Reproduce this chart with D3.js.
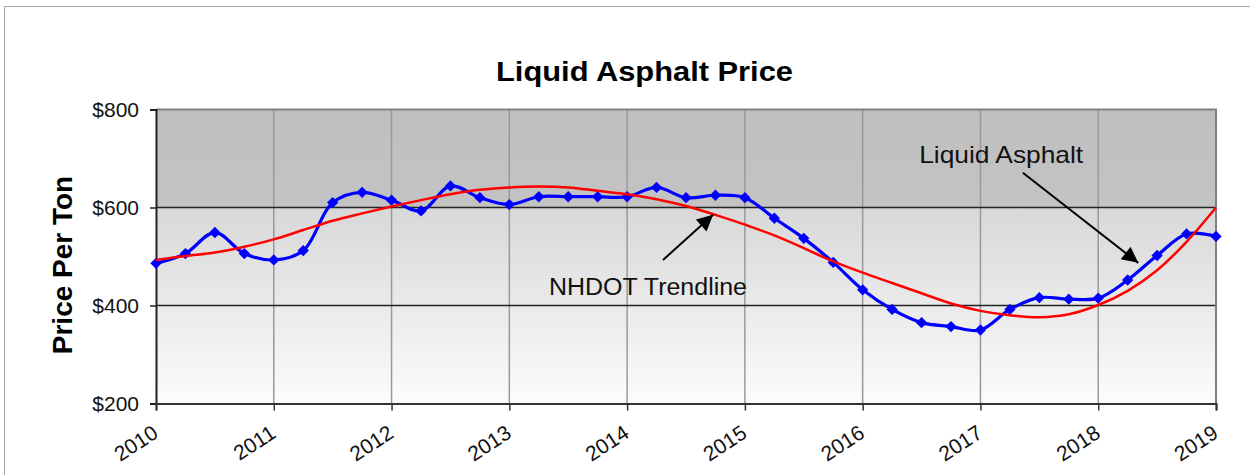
<!DOCTYPE html>
<html>
<head>
<meta charset="utf-8">
<script src="https://cdn.jsdelivr.net/npm/d3@7"></script>
<style>
  html, body { margin: 0; padding: 0; background: #fff; }
  svg { display: block; }
  text { font-family: "Liberation Sans", Arial, sans-serif; }
</style>
</head>
<body>
<script>
// ---------- DATA ----------
const startYear = 2010;
const yearLabels = ["2010","2011","2012","2013","2014","2015","2016","2017","2018","2019"];
const priceTicks = [200, 400, 600, 800];
// quarterly liquid asphalt price ($/ton), 2010 Q1 .. 2019 Q1
const asphaltPrice = [486, 506, 549, 506, 493, 512, 610, 631, 615, 593, 644, 620, 606,
  622, 622, 622, 622, 641, 620, 625, 620, 578, 537, 488, 432, 392, 365, 357, 350,
  392, 416, 413, 415, 452, 502, 546, 541];
// NHDOT trendline read at the same quarters
const trendPrice = [493, 501, 508, 520, 535, 554, 573, 588, 602, 615, 627, 636, 641,
  643, 641, 634, 627, 617, 603, 585, 565, 543, 517, 490, 467, 446, 425, 404, 389,
  380, 376, 382, 401, 430, 472, 530, 600];
const titleText = "Liquid Asphalt Price";
const yAxisTitle = "Price Per Ton";
// annotation callouts in data coordinates (year, price)
const annotations = [
  { label: "NHDOT Trendline", textAt: [2013.337, 421], from: [2014.305, 493], to: [2014.73, 585] },
  { label: "Liquid Asphalt", textAt: [2016.48, 690], from: [2017.36, 671], to: [2018.34, 487] }
];

// ---------- LAYOUT ----------
const W = 1250, H = 475;
const plot = { left: 156, right: 1216, top: 109.5, bottom: 403.5 };

const svg = d3.select("body").append("svg").attr("width", W).attr("height", H);

const x = d3.scaleLinear().domain([2010, 2019]).range([plot.left, plot.right]);
const y = d3.scaleLinear().domain([200, 800]).range([plot.bottom, plot.top]);

const defs = svg.append("defs");
const grad = defs.append("linearGradient").attr("id", "bg")
  .attr("x1", 0).attr("y1", 0).attr("x2", 0).attr("y2", 1);
[[0, "#bfbfbf"], [0.33, "#c3c3c3"], [0.335, "#d8d8d8"], [1, "#fcfcfc"]]
  .forEach(([o, c]) => grad.append("stop").attr("offset", o).attr("stop-color", c));

defs.append("marker").attr("id", "arrow")
  .attr("viewBox", "0 0 10 10").attr("refX", 10).attr("refY", 5)
  .attr("markerWidth", 9).attr("markerHeight", 8).attr("markerUnits", "strokeWidth")
  .attr("orient", "auto")
  .append("path").attr("d", "M0,0 L10,5 L0,10 Z").attr("fill", "#000");

// outer frame
svg.append("rect").attr("x", 4.5).attr("y", 6.5).attr("width", 1270).attr("height", 490)
  .attr("fill", "none").attr("stroke", "#a6a6a6").attr("stroke-width", 1);

// plot background
svg.append("rect").attr("x", plot.left).attr("y", plot.top)
  .attr("width", plot.right - plot.left).attr("height", plot.bottom - plot.top)
  .attr("fill", "url(#bg)");

// vertical gridlines
svg.append("g").selectAll("line").data(yearLabels.slice(1, -1)).join("line")
  .attr("x1", d => x(+d)).attr("x2", d => x(+d))
  .attr("y1", plot.top).attr("y2", plot.bottom)
  .attr("stroke", "#999").attr("stroke-width", 1.5);

// horizontal gridlines
svg.append("g").selectAll("line").data(priceTicks.slice(1, -1)).join("line")
  .attr("x1", plot.left).attr("x2", plot.right)
  .attr("y1", d => y(d)).attr("y2", d => y(d))
  .attr("stroke", "#222").attr("stroke-width", 1.5);

// plot border top/right
svg.append("path")
  .attr("d", `M${plot.left},${plot.top}H${plot.right}V${plot.bottom}`)
  .attr("fill", "none").attr("stroke", "#808080").attr("stroke-width", 2);

// axes
const yAxis = d3.axisLeft(y).tickValues(priceTicks).tickSize(6).tickPadding(11)
  .tickFormat(d => "$" + d);
const gy = svg.append("g").attr("transform", `translate(${plot.left},0)`).call(yAxis);
gy.select(".domain").attr("stroke", "#222").attr("stroke-width", 2);
gy.selectAll(".tick line").attr("stroke", "#222").attr("stroke-width", 1.5);
gy.selectAll(".tick text").attr("font-size", 21).attr("fill", "#111")
  .style("font-family", "'Liberation Sans', Arial, sans-serif");

const xAxis = d3.axisBottom(x).tickValues(yearLabels.map(Number)).tickSize(7)
  .tickFormat((d, i) => yearLabels[i]);
const gx = svg.append("g").attr("transform", `translate(0,${plot.bottom})`).call(xAxis);
gx.select(".domain").attr("stroke", "#333").attr("stroke-width", 2);
gx.selectAll(".tick line").attr("stroke", "#333").attr("stroke-width", 1.5);
gx.selectAll(".tick text")
  .attr("font-size", 21).attr("fill", "#111")
  .style("font-family", "'Liberation Sans', Arial, sans-serif")
  .attr("text-anchor", "end").attr("y", 0).attr("dy", 0)
  .attr("transform", "translate(3,33) rotate(-33)");

// lines
const quarterYear = (d, i) => startYear + i / 4;
const line = d3.line().x((d, i) => x(quarterYear(d, i))).y(d => y(d))
  .curve(d3.curveCatmullRom.alpha(0.5));

svg.append("path").datum(asphaltPrice).attr("d", line)
  .attr("fill", "none").attr("stroke", "#0000ff").attr("stroke-width", 3.2);

svg.append("g").selectAll("path").data(asphaltPrice).join("path")
  .attr("d", d3.symbol(d3.symbolSquare, 64))
  .attr("transform", (d, i) => `translate(${x(quarterYear(d, i))},${y(d)}) rotate(45)`)
  .attr("fill", "#0000ff");

svg.append("path").datum(trendPrice).attr("d", line)
  .attr("fill", "none").attr("stroke", "#ff0000").attr("stroke-width", 2.5);

// annotations
annotations.forEach(a => {
  svg.append("line")
    .attr("x1", x(a.from[0])).attr("y1", y(a.from[1]))
    .attr("x2", x(a.to[0])).attr("y2", y(a.to[1]))
    .attr("stroke", "#000").attr("stroke-width", 2)
    .attr("marker-end", "url(#arrow)");
});
svg.append("text").attr("x", x(annotations[0].textAt[0])).attr("y", y(annotations[0].textAt[1]))
  .attr("font-size", 23).attr("fill", "#111")
  .attr("textLength", 198).attr("lengthAdjust", "spacingAndGlyphs")
  .text(annotations[0].label);
svg.append("text").attr("x", x(annotations[1].textAt[0])).attr("y", y(annotations[1].textAt[1]))
  .attr("font-size", 24).attr("fill", "#111")
  .attr("textLength", 164).attr("lengthAdjust", "spacingAndGlyphs")
  .text(annotations[1].label);

// title
svg.append("text").attr("x", 496).attr("y", 81)
  .attr("font-size", 27).attr("font-weight", "bold").attr("fill", "#000")
  .attr("textLength", 297).attr("lengthAdjust", "spacingAndGlyphs")
  .text(titleText);

// y axis title
svg.append("text")
  .attr("transform", "translate(72,265) rotate(-90)")
  .attr("text-anchor", "middle")
  .attr("font-size", 28).attr("font-weight", "bold").attr("fill", "#000")
  .text(yAxisTitle);
</script>
</body>
</html>
